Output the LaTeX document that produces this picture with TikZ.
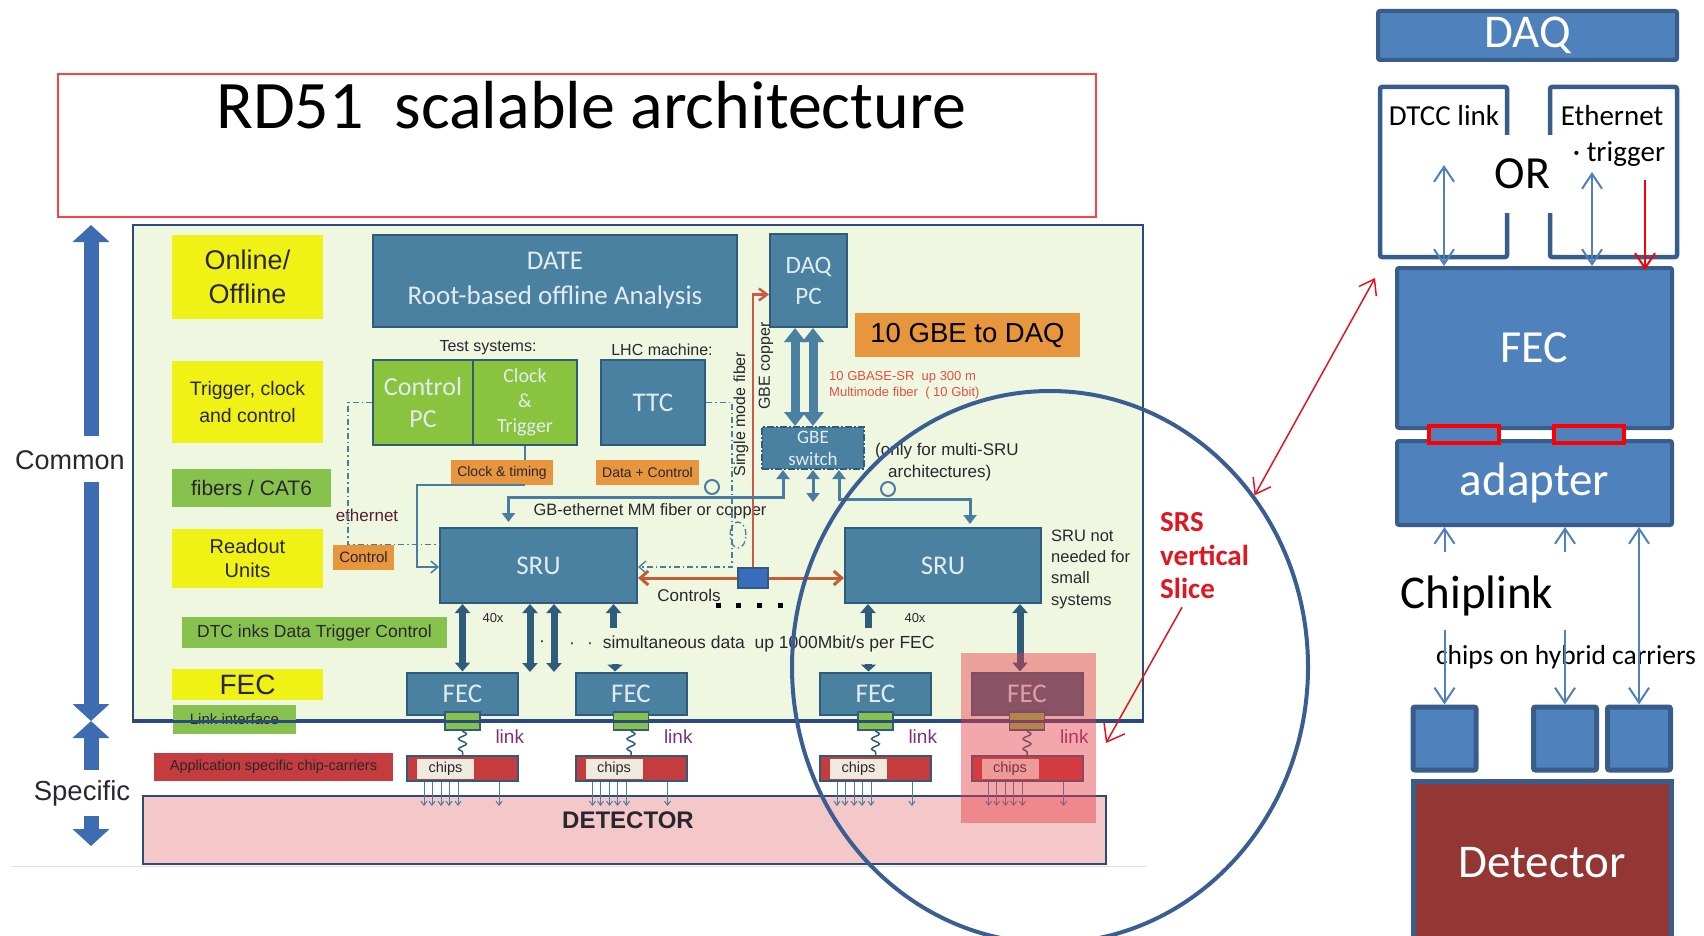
\documentclass[tikz,border=0pt]{standalone}
\usepackage{fontspec}
\setmainfont{Liberation Sans}
\newfontfamily\calfont{Carlito}
\usetikzlibrary{arrows.meta,calc,shapes.geometric,decorations.pathmorphing}

\definecolor{panelgreen}{RGB}{240,247,224}
\definecolor{panelblue}{RGB}{44,74,128}
\definecolor{steelb}{RGB}{74,128,160}
\definecolor{steeld}{RGB}{48,92,124}
\definecolor{boxtxt}{RGB}{226,236,240}
\definecolor{lblyellow}{RGB}{240,242,22}
\definecolor{lblgreen}{RGB}{136,194,78}
\definecolor{testgreen}{RGB}{138,196,62}
\definecolor{lblorange}{RGB}{232,150,62}
\definecolor{carrierred}{RGB}{196,60,62}
\definecolor{chipcream}{RGB}{238,234,222}
\definecolor{detpink}{RGB}{244,200,200}
\definecolor{fiberred}{RGB}{204,88,72}
\definecolor{ctrlorange}{RGB}{196,92,52}
\definecolor{hubblue}{RGB}{58,108,190}
\definecolor{ringblue}{RGB}{58,94,146}
\definecolor{slicered}{RGB}{226,22,32}
\definecolor{overlayred}{RGB}{232,60,70}
\definecolor{daqblue}{RGB}{79,129,189}
\definecolor{daqedge}{RGB}{56,93,138}
\definecolor{detred}{RGB}{148,54,52}
\definecolor{arrowblue}{RGB}{62,108,178}
\definecolor{gbblue}{RGB}{72,124,160}
\definecolor{linkpurple}{RGB}{128,48,128}
\definecolor{darktxt}{RGB}{42,38,48}
\definecolor{gbasered}{RGB}{226,80,70}

\newcommand\fsz[2]{\fontsize{#1}{#2}\selectfont}

\begin{document}
\begin{tikzpicture}[x=1pt,y=-1pt,
        every node/.style={inner sep=0pt},
        titlebox/.style={draw=red!75!white,line width=1.5pt,fill=white},
        panel/.style={draw=panelblue,line width=2.5pt,fill=panelgreen},
        yellowlbl/.style={fill=lblyellow,text=darktxt,align=center},
        greenlbl/.style={fill=lblgreen,text=darktxt,align=center},
        orangelbl/.style={fill=lblorange,text=darktxt,align=center},
        bluebox/.style={draw=steeld,line width=2pt,fill=steelb,text=boxtxt,align=center},
        testbox/.style={draw=steeld,line width=2pt,fill=testgreen,text=boxtxt,align=center},
        switchbox/.style={bluebox,dash pattern=on 7pt off 2pt on 2pt off 2pt},
        fecbox/.style={bluebox,minimum width=111pt,minimum height=42pt,font=\calfont\fsz{27}{30}},
        plug/.style={draw=steeld,line width=1.5pt,fill=lblgreen,minimum width=35pt,minimum height=18pt},
        carrier/.style={draw=steeld,line width=2pt,fill=carrierred,minimum width=111pt,minimum height=25pt},
        chipcell/.style={fill=chipcream,minimum width=57pt,minimum height=20pt,font=\fsz{14.5}{16},text=darktxt},
        linkwave/.style={draw=steeld,line width=1.5pt,decorate,decoration={snake,amplitude=4pt,segment length=10pt}},
        linklbl/.style={font=\fsz{19}{21},text=linkpurple},
        pinarrow/.style={draw=gbblue,line width=1pt,-{Straight Barb[length=4pt,width=6pt]}},
        bigarrow/.style={draw=arrowblue,line width=15pt,-{Triangle[width=36pt,length=17pt]}},
        fatlink/.style={draw=steeld,line width=7pt,{Triangle[width=15pt,length=9pt]}-{Triangle[width=15pt,length=9pt]}},
        fatup/.style={draw=steeld,line width=7pt,{Triangle[width=15pt,length=9pt]}-},
        fatdown/.style={draw=steeld,line width=7pt,-{Triangle[width=15pt,length=7pt]}},
        pcpipe/.style={draw=steelb,line width=9pt,{Triangle[width=21pt,length=14pt]}-{Triangle[width=21pt,length=14pt]}},
        gbwire/.style={draw=gbblue,line width=3pt},
        gbtip/.style={gbwire,-{Triangle[width=13pt,length=9pt]}},
        dashwire/.style={draw=gbblue,line width=1.3pt,dash pattern=on 6pt off 3pt on 1.5pt off 3pt},
        thinwire/.style={draw=gbblue,line width=1.5pt},
        opentip/.style={-{Straight Barb[length=7pt,width=12pt]}},
        ctrlwire/.style={draw=ctrlorange,line width=3pt,-{Straight Barb[length=8pt,width=14pt]}},
        fiberwire/.style={draw=fiberred,line width=2.5pt,-{Straight Barb[length=8pt,width=12pt]}},
        ring/.style={draw=ringblue,line width=4pt,ellipse,minimum width=516pt,minimum height=552pt},
        redlink/.style={draw=slicered,line width=1.5pt},
        daqbox/.style={draw=daqedge,line width=4pt,fill=daqblue,text=white,rounded corners=2pt},
        optbox/.style={draw=daqedge,line width=4.5pt,fill=white,rounded corners=2pt},
        redplug/.style={draw=red,line width=4pt,fill=daqblue,minimum width=70pt,minimum height=17pt},
        hybsq/.style={draw=daqedge,line width=5pt,fill=daqblue,rounded corners=2pt,minimum size=63pt},
        detbox/.style={draw=daqedge,line width=5pt,fill=detred,text=white},
        thinlink/.style={draw=daqblue,line width=2pt},
        barbs/.style={{Straight Barb[length=15pt,width=20pt]}-{Straight Barb[length=15pt,width=20pt]}},
        barb/.style={-{Straight Barb[length=15pt,width=20pt]}}
    ]

    \path[use as bounding box,fill=white] (0,0) rectangle (1704,936);

    % title
    \node[titlebox,minimum width=1038pt,minimum height=143pt] (titlefrm) at (577,145.5) {};
    \node[font=\calfont\fsz{68}{72}] (title) at (591,105) {RD51\ \ scalable architecture};

    % common / specific
    \coordinate (comtop) at (91,225);
    \coordinate (split) at (91,721);
    \coordinate (spebot) at (91,846);
    \node[font=\fsz{27}{30},text=darktxt] (common) at (70,460) {Common};
    \node[font=\fsz{27.5}{30},text=darktxt] (specific) at (82,793) {Specific};
    \draw[bigarrow] ($(comtop |- common.north)+(0,-14)$) -- (comtop);
    \draw[bigarrow] ($(split |- common.south)+(0,12)$) -- (split);
    \draw[bigarrow] ($(split |- specific.north)+(0,-10)$) -- (split);
    \draw[bigarrow] ($(split |- specific.south)+(0,10)$) -- (spebot);

    % main panel
    \node[panel,minimum width=1010pt,minimum height=495pt] (panel) at (638,472.5) {};

    \node[yellowlbl,minimum width=151pt,minimum height=84pt,font=\fsz{27}{34}] (online) at (247.5,277) {Online/\\Offline};
    \node[yellowlbl,minimum width=151pt,minimum height=82pt,font=\fsz{19.5}{27}] (tcc) at (247.5,402) {Trigger, clock\\and control};
    \node[greenlbl,minimum width=159pt,minimum height=38pt,font=\fsz{21}{24}] (fibers) at (251.5,488) {fibers / CAT6};
    \node[yellowlbl,minimum width=151pt,minimum height=59pt,font=\fsz{20}{24}] (readout) at (247.5,558.5) {Readout\\Units};
    \node[greenlbl,minimum width=265pt,minimum height=31pt,font=\fsz{17.5}{20}] (dtc) at (314.5,632.5) {DTC inks Data Trigger Control};
    \node[yellowlbl,minimum width=151pt,minimum height=31pt,font=\fsz{28}{30}] (feclbl) at (247.5,684.5) {FEC};
    \node[greenlbl,minimum width=123pt,minimum height=29pt,font=\fsz{15}{17}] (linkif) at (234.5,719) {Link interface};
    \node[fill=carrierred,text=darktxt,minimum width=239pt,minimum height=28pt,font=\fsz{14.5}{16}] (appl) at (273.5,767) {Application specific chip-carriers};

    % top row
    \node[bluebox,minimum width=364pt,minimum height=92pt,font=\calfont\fsz{27}{35}] (date) at (555,281) {DATE\\Root-based offline Analysis};
    \node[bluebox,minimum width=77pt,minimum height=93pt,font=\calfont\fsz{25}{31}] (daqpc) at (808.5,280.5) {DAQ\\PC};
    \node[orangelbl,minimum width=225pt,minimum height=44pt,font=\fsz{27.5}{30},text=black] (tengbe) at (967.5,335) {10 GBE to DAQ};
    \node[anchor=west,align=left,text=gbasered,font=\fsz{13}{16}] (gbase) at (829,385) {10 GBASE-SR\ \ up 300 m\\Multimode fiber\ \ ( 10 Gbit)};
    \node[text=darktxt,font=\fsz{16}{18}] (testsys) at (488,348) {Test systems:};
    \node[text=darktxt,font=\fsz{16}{18}] (lhc) at (662,350) {LHC machine:};
    \node[testbox,minimum width=100pt,minimum height=85pt,font=\calfont\fsz{26}{32}] (ctrlpc) at (423,402.5) {Control\\PC};
    \node[testbox,minimum width=104pt,minimum height=85pt,font=\calfont\fsz{20}{25}] (clktrig) at (525,402.5) {Clock\\\&\\Trigger};
    \node[bluebox,minimum width=104pt,minimum height=85pt,font=\calfont\fsz{27}{30}] (ttc) at (653,402.5) {TTC};
    \node[orangelbl,minimum width=102pt,minimum height=25pt,font=\fsz{14}{16}] (clktime) at (502,472.5) {Clock \& timing};
    \node[orangelbl,minimum width=103pt,minimum height=25pt,font=\fsz{14}{16}] (datactrl) at (647.5,472.5) {Data + Control};
    \node[orangelbl,minimum width=61pt,minimum height=25pt,font=\fsz{15}{17}] (ctrllbl) at (363.5,557.5) {Control};
    \node[text=darktxt!70!purple,font=\fsz{17}{19}] (ethlbl) at (367,515) {ethernet};

    \node[switchbox,minimum width=102pt,minimum height=42pt,font=\calfont\fsz{19}{22}] (gbesw) at (813,448) {GBE\\switch};
    \node[anchor=west,align=left,text=darktxt,font=\fsz{17}{22}] (multisru) at (875,462) {(only for multi-SRU\\\hspace*{13pt}architectures)};
    \node[rotate=90,text=darktxt,font=\fsz{16}{18}] (smfiber) at (741,414) {Single mode fiber};
    \node[rotate=90,text=darktxt,font=\fsz{16}{18}] (gbecu) at (766,366) {GBE copper};
    \node[text=darktxt,font=\fsz{16.5}{18}] (gbeth) at (650,511) {GB-ethernet MM fiber or copper};

    % readout units
    \node[bluebox,minimum width=197pt,minimum height=75pt,font=\calfont\fsz{27}{30}] (sru1) at (538.5,565.5) {SRU};
    \node[bluebox,minimum width=196pt,minimum height=75pt,font=\calfont\fsz{27}{30}] (sru2) at (943,565.5) {SRU};
    \node[fill=hubblue,draw=steeld,line width=1.5pt,minimum width=30pt,minimum height=20pt] (hub) at (753,578) {};
    \node[text=darktxt,font=\fsz{17}{19}] (controls) at (689,595) {Controls};
    \node[anchor=west,align=left,text=darktxt,font=\fsz{16.5}{21.3}] (notneeded) at (1051,569) {SRU not\\needed for\\small\\systems};

    \draw[fiberwire] (hub.north) |- ($(daqpc.west)+(0,14)$);
    \draw[ctrlwire] (hub.west) -- (hub.west -| sru1.east);
    \draw[ctrlwire] (hub.east) -- (hub.east -| sru2.west);
    \draw[dashwire] (ctrlpc.west) -- ++(-24,0) |- ($(sru1.west)+(0,-21)$);
    \draw[thinwire] (clktrig.south) -- (clktime.north -| clktrig.south);
    \draw[thinwire,opentip] (clktime.south -| clktrig.south) -- ++(-108,0) |- ($(sru1.west)+(0,1.5)$);
    \draw[dashwire,opentip] (ttc.east) -- ++(26,0) |- ($(sru1.east)+(0,1.5)$);
    \draw[dashwire] (738,535) ellipse [x radius=8pt,y radius=13pt];

    \draw[gbtip] ($(gbesw.south)+(-30,27)$) -| ($(sru1.north)+(-30,-5)$);
    \draw[gbtip] ($(gbesw.south)+(-30,29)$) -- ($(gbesw.south)+(-30,0)$);
    \draw[gbwire,{Triangle[width=13pt,length=9pt]}-{Triangle[width=13pt,length=9pt]}] (gbesw.south) -- ++(0,32);
    \draw[gbtip] ($(gbesw.south)+(26,31)$) -- ($(gbesw.south)+(26,0)$);
    \draw[gbtip] ($(gbesw.south)+(26,29)$) -| ($(sru2.north)+(27,-3)$);
    \node[circle,draw=gbblue,line width=2pt,fill=panelgreen,minimum size=14pt] (ringa) at (712,487) {};
    \node[circle,draw=gbblue,line width=2pt,fill=panelgreen,minimum size=14pt] (ringb) at (888,489) {};

    \draw[pcpipe] ($(daqpc.south)+(-13.5,0)$) -- ($(gbesw.north)+(-18,0)$);
    \draw[pcpipe] ($(daqpc.south)+(4.5,0)$) -- (gbesw.north);

    % front-end cards
    \node[fecbox] (fec1) at (462.5,693.5) {FEC};
    \node[fecbox] (fec2) at (631,693.5) {FEC};
    \node[fecbox] (fec3) at (875.5,693.5) {FEC};
    \node[fecbox,fill=steelb!80!black] (fec4) at (1027,693.5) {FEC};

    \draw[fatlink] (fec1.north |- sru1.south) -- (fec1.north);
    \draw[fatlink] ($(sru1.south)+(-8.5,0)$) -- ++(0,68);
    \draw[fatlink] ($(sru1.south)+(15.5,0)$) -- ++(0,68);
    \draw[fatup] ($(sru1.south)+(75,0)$) -- ++(0,24);
    \draw[fatdown] ($(fec2.north)+(-16,-8)$) -- ($(fec2.north)+(-16,0)$);
    \draw[fatup] ($(sru2.south)+(-75,0)$) -- ++(0,24);
    \draw[fatdown] ($(fec3.north)+(-7,-8)$) -- ($(fec3.north)+(-7,0)$);
    \draw[fatlink] ($(sru2.south)+(77,0)$) -- ($(fec4.north)+(-7,0)$);

    \node[text=darktxt,font=\fsz{13}{15}] (fortya) at (493,618) {40x};
    \node[text=darktxt,font=\fsz{13}{15}] (fortyb) at (915,618) {40x};
    \node[text=darktxt,font=\fsz{17.5}{20}] (dota) at (542,644) {·};
    \node[anchor=west,text=darktxt,font=\fsz{17.5}{20}] (simul) at (569,644) {·\hspace{12pt}·\hspace{10pt}simultaneous data\ \ up 1000Mbit/s per FEC};
    \fill[black] (716,603) rectangle ++(5,5);
    \fill[black] (736,603) rectangle ++(5,5);
    \fill[black] (757,603) rectangle ++(5,5);
    \fill[black] (778,603) rectangle ++(5,5);

    \node[plug] (plug1) at (462.5,721) {};
    \node[plug] (plug2) at (631,721) {};
    \node[plug] (plug3) at (875.5,721) {};
    \node[plug] (plug4) at (1027,721) {};
    \draw[panelblue,line width=2.5pt] (panel.south west) -- (panel.south east);

    \node[carrier] (car1) at (462.5,768.5) {};
    \node[carrier] (car2) at (631,768.5) {};
    \node[carrier] (car3) at (875.5,768.5) {};
    \node[carrier] (car4) at (1027,768.5) {};
    \node[chipcell] (chips1) at (445.5,768.5) {chips};
    \node[chipcell] (chips2) at (614,768.5) {chips};
    \node[chipcell] (chips3) at (858.5,768.5) {chips};
    \node[chipcell] (chips4) at (1010,768.5) {chips};
    \draw[linkwave] (plug1.south) -- (car1.north);
    \draw[linkwave] (plug2.south) -- (car2.north);
    \draw[linkwave] (plug3.south) -- (car3.north);
    \draw[linkwave] (plug4.south) -- (car4.north);
    \node[linklbl] (link1) at ($(plug1.east)+(29,16)$) {link};
    \node[linklbl] (link2) at ($(plug2.east)+(29,16)$) {link};
    \node[linklbl] (link3) at ($(plug3.east)+(29,16)$) {link};
    \node[linklbl] (link4) at ($(plug4.east)+(29,16)$) {link};

    % detector
    \node[draw=panelblue,line width=2.5pt,fill=detpink,minimum width=963pt,minimum height=68pt] (detector) at (624.5,830) {};
    \node[font=\bfseries\fsz{24}{26},text=darktxt] (dettxt) at (628,820) {DETECTOR};
    \draw[black!12,line width=1pt] (11,866) -- (1146,866);

    \draw[pinarrow] ($(car1.south west)+(18,0)$) -- ++(0,24);
    \draw[pinarrow] ($(car1.south west)+(26,0)$) -- ++(0,24);
    \draw[pinarrow] ($(car1.south west)+(35,0)$) -- ++(0,24);
    \draw[pinarrow] ($(car1.south west)+(43,0)$) -- ++(0,24);
    \draw[pinarrow] ($(car1.south west)+(52,0)$) -- ++(0,24);
    \draw[pinarrow] ($(car1.south west)+(93,0)$) -- ++(0,24);
    \draw[pinarrow] ($(car2.south west)+(18,0)$) -- ++(0,24);
    \draw[pinarrow] ($(car2.south west)+(26,0)$) -- ++(0,24);
    \draw[pinarrow] ($(car2.south west)+(35,0)$) -- ++(0,24);
    \draw[pinarrow] ($(car2.south west)+(43,0)$) -- ++(0,24);
    \draw[pinarrow] ($(car2.south west)+(52,0)$) -- ++(0,24);
    \draw[pinarrow] ($(car2.south west)+(93,0)$) -- ++(0,24);
    \draw[pinarrow] ($(car3.south west)+(18,0)$) -- ++(0,24);
    \draw[pinarrow] ($(car3.south west)+(26,0)$) -- ++(0,24);
    \draw[pinarrow] ($(car3.south west)+(35,0)$) -- ++(0,24);
    \draw[pinarrow] ($(car3.south west)+(43,0)$) -- ++(0,24);
    \draw[pinarrow] ($(car3.south west)+(52,0)$) -- ++(0,24);
    \draw[pinarrow] ($(car3.south west)+(93,0)$) -- ++(0,24);
    \draw[pinarrow] ($(car4.south west)+(18,0)$) -- ++(0,24);
    \draw[pinarrow] ($(car4.south west)+(26,0)$) -- ++(0,24);
    \draw[pinarrow] ($(car4.south west)+(35,0)$) -- ++(0,24);
    \draw[pinarrow] ($(car4.south west)+(43,0)$) -- ++(0,24);
    \draw[pinarrow] ($(car4.south west)+(52,0)$) -- ++(0,24);
    \draw[pinarrow] ($(car4.south west)+(93,0)$) -- ++(0,24);

    % vertical slice
    \node[fill=overlayred,fill opacity=0.45,minimum width=135pt,minimum height=170pt] (slicebox) at (1028.5,738) {};
    \node[anchor=west,align=left,text=slicered,font=\calfont\bfseries\fsz{29}{33.5}] (srs) at (1160,556) {SRS\\vertical\\Slice};
    \coordinate (slicetip) at (1106,743);
    \draw[redlink,-{Straight Barb[length=16pt,width=24pt]}] ($(srs.south west)+(22,8)$) -- (slicetip);

    % right panel
    \node[daqbox,minimum width=299pt,minimum height=49pt,font=\calfont\fsz{47}{50}] (daqR) at (1527.5,35.5) {DAQ};
    \node[optbox,minimum width=127pt,minimum height=170pt] (dtcc) at (1443.5,172) {};
    \node[optbox,minimum width=127pt,minimum height=170pt] (ethbox) at (1613.5,172) {};
    \node[font=\calfont\fsz{29}{32}] (dtcclbl) at (1444,116) {DTCC link};
    \node[font=\calfont\fsz{29}{32}] (ethname) at (1612,116) {Ethernet};
    \node[font=\calfont\fsz{29}{32}] (triglbl) at (1619,154) {· trigger};
    \node[fill=white,minimum width=70pt,minimum height=78pt,font=\calfont\fsz{46}{50}] (orlbl) at (1522.5,174) {OR};

    \node[daqbox,minimum width=275pt,minimum height=160pt,font=\calfont\fsz{46}{50}] (fecR) at (1534.5,348) {FEC};
    \node[daqbox,minimum width=275pt,minimum height=84pt,font=\calfont\fsz{47}{50}] (adapter) at (1534.5,483) {adapter};
    \node[redplug] (plugA) at (1464,434.5) {};
    \node[redplug] (plugB) at (1588.5,434.5) {};

    \draw[thinlink,barbs] ($(dtcc.center)+(0.5,-7)$) -- ($(dtcc.center |- fecR.north)+(0.5,0)$);
    \draw[thinlink,barbs] ($(ethbox.center)+(-21.5,0)$) -- ($(ethbox.center |- fecR.north)+(-21.5,0)$);
    \draw[draw=red,line width=2pt,barb] ($(ethbox.center)+(31.5,8)$) -- ($(ethbox.center |- fecR.north)+(31.5,4)$);

    \node[font=\calfont\fsz{47}{50}] (chiplink) at (1477,596) {Chiplink};
    \node[font=\calfont\fsz{27.5}{30}] (hybrid) at (1566,657) {chips on hybrid carriers};
    \node[hybsq] (hyb1) at (1444.5,738.5) {};
    \node[hybsq] (hyb2) at (1565,738.5) {};
    \node[hybsq] (hyb3) at (1639,738.5) {};
    \node[detbox,minimum width=258pt,minimum height=164pt,font=\calfont\fsz{47}{50}] (detR) at (1542,863) {Detector};

    \draw[thinlink,barb] ($(adapter.south -| hyb1.north)+(0,25)$) -- (adapter.south -| hyb1.north);
    \draw[thinlink,barb] ($(adapter.south -| hyb2.north)+(0,25)$) -- (adapter.south -| hyb2.north);
    \draw[thinlink,barb] ($(hyb1.north)+(0,-75)$) -- (hyb1.north);
    \draw[thinlink,barb] ($(hyb2.north)+(0,-75)$) -- (hyb2.north);
    \draw[thinlink,barbs] (adapter.south -| hyb3.north) -- (hyb3.north);

    % ring round the slice
    \node[ring] (slice) at (1050,667) {};
    \draw[redlink,{Straight Barb[length=14pt,width=20pt]}-{Straight Barb[length=14pt,width=20pt]}] (slice.40) -- ($(fecR.north west)+(-20,12)$);

\end{tikzpicture}
\end{document}
